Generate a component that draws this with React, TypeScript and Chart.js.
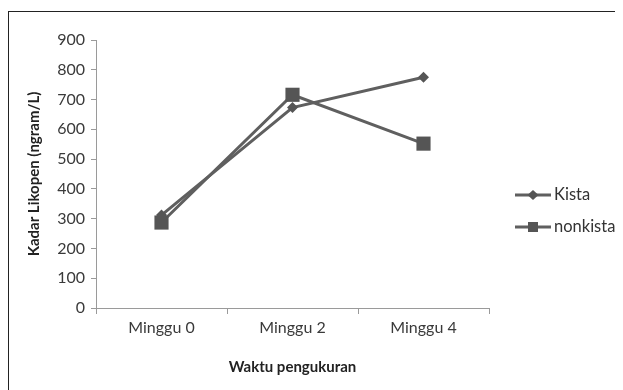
import React, { useEffect, useRef } from "react";
import { Chart, registerables } from "chart.js";

Chart.register(...registerables);

const categories = ["Minggu 0", "Minggu 2", "Minggu 4"];
const kista = [312, 673, 775];
const nonkista = [287, 716, 552];
const seriesNames = ["Kista", "nonkista"];
const xTitle = "Waktu pengukuran";
const yTitle = "Kadar Likopen (ngram/L)";

const FONT = "Lato, 'Open Sans', sans-serif";
const LINE = "#5f5f5f";
const MARK = "#555555";

const legendPlugin = {
  id: "customLegend",
  afterDraw(chart: any) {
    const ctx = chart.ctx;
    const items = [
      { name: seriesNames[0], style: "diamond", y: 183 },
      { name: seriesNames[1], style: "square", y: 215 },
    ];
    ctx.save();
    items.forEach((it) => {
      const x0 = 506;
      const x1 = 542;
      ctx.strokeStyle = LINE;
      ctx.lineWidth = 3;
      ctx.beginPath();
      ctx.moveTo(x0, it.y);
      ctx.lineTo(x1, it.y);
      ctx.stroke();
      ctx.fillStyle = MARK;
      const cx = (x0 + x1) / 2;
      if (it.style === "diamond") {
        ctx.beginPath();
        ctx.moveTo(cx, it.y - 5);
        ctx.lineTo(cx + 5.5, it.y);
        ctx.lineTo(cx, it.y + 5);
        ctx.lineTo(cx - 5.5, it.y);
        ctx.closePath();
        ctx.fill();
      } else {
        ctx.fillRect(cx - 5, it.y - 5, 10, 10);
      }
      ctx.fillStyle = "#333333";
      ctx.font = `16.5px ${FONT}`;
      ctx.textAlign = "left";
      ctx.textBaseline = "middle";
      ctx.fillText(it.name, x1 + 3, it.y);
    });
    ctx.restore();
  },
};

export default function App() {
  const ref = useRef<HTMLCanvasElement | null>(null);
  useEffect(() => {
    if (!ref.current) return;
    const chart = new Chart(ref.current, {
      type: "line",
      data: {
        labels: categories,
        datasets: [
          {
            label: seriesNames[0],
            data: kista,
            borderColor: LINE,
            backgroundColor: MARK,
            borderWidth: 3,
            pointStyle: "rectRot",
            pointRadius: 5.5,
            pointBorderWidth: 0,
            pointBackgroundColor: MARK,
            order: 2,
          },
          {
            label: seriesNames[1],
            data: nonkista,
            borderColor: LINE,
            backgroundColor: MARK,
            borderWidth: 3,
            pointStyle: "rect",
            pointRadius: 10,
            pointBorderWidth: 0,
            pointBackgroundColor: MARK,
            order: 1,
          },
        ],
      },
      options: {
        animation: false,
        responsive: false,
        maintainAspectRatio: false,
        layout: { padding: { left: 0, top: 28, right: 134, bottom: 0 } },
        plugins: { legend: { display: false }, tooltip: { enabled: false } },
        scales: {
          x: {
            offset: true,
            grid: {
              offset: true,
              drawOnChartArea: false,
              drawTicks: true,
              tickLength: 6,
              color: "#9a9a9a",
            },
            border: { color: "#9a9a9a", width: 1 },
            ticks: {
              color: "#3a3a3a",
              font: { family: FONT, size: 16 },
              padding: 4,
              maxRotation: 0,
            },
            title: {
              display: true,
              text: xTitle,
              color: "#222222",
              font: { family: FONT, size: 15, weight: "bold" },
              padding: { top: 12, bottom: 14 },
            },
            afterFit(scale: any) {
              scale.height = 82;
            },
          },
          y: {
            min: 0,
            max: 900,
            ticks: {
              stepSize: 100,
              color: "#3a3a3a",
              font: { family: FONT, size: 16 },
              padding: 6,
            },
            grid: {
              drawOnChartArea: false,
              drawTicks: true,
              tickLength: 5,
              color: "#9a9a9a",
            },
            border: { color: "#9a9a9a", width: 1 },
            title: {
              display: true,
              text: yTitle,
              color: "#222222",
              font: { family: FONT, size: 15, weight: "bold" },
              padding: { top: 16, bottom: 0 },
            },
            afterFit(scale: any) {
              scale.width = 87;
            },
          },
        },
      },
      plugins: [legendPlugin],
    });
    return () => chart.destroy();
  }, []);
  return (
    <div
      style={{
        marginTop: 3,
        borderTop: "1px solid #222",
        borderLeft: "1px solid #222",
        width: 614,
        height: 378,
        background: "#fff",
      }}
    >
      <canvas ref={ref} width={614} height={378} style={{ display: "block" }} />
    </div>
  );
}
